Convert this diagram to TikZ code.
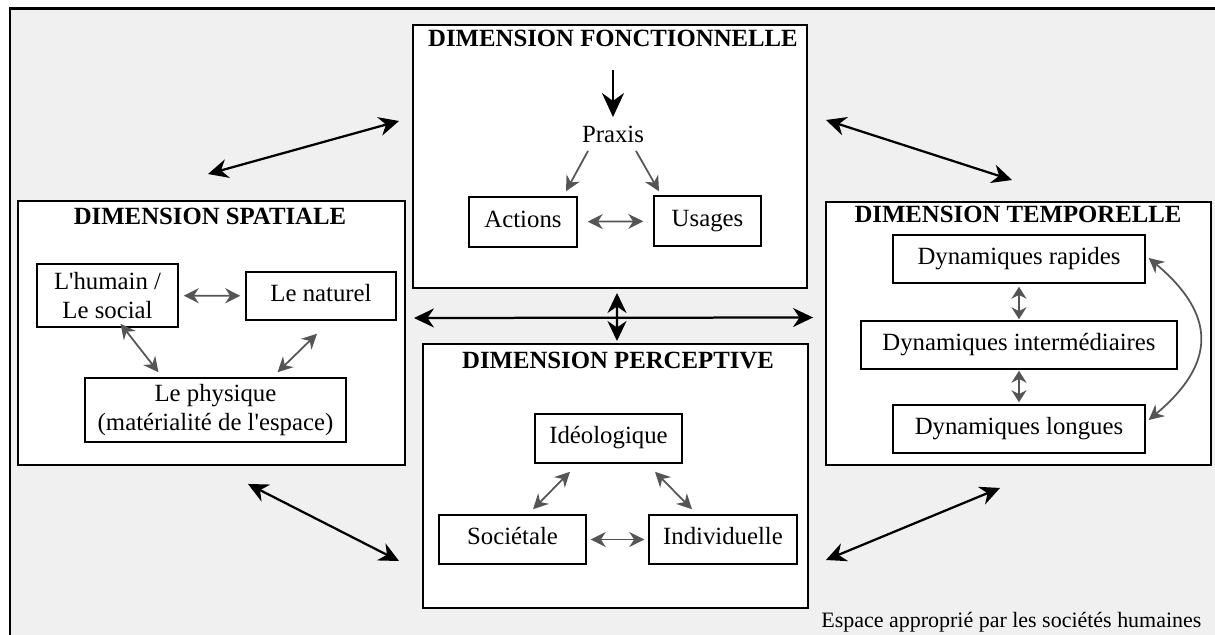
\documentclass[tikz,border=0pt]{standalone}
\usepackage{fontspec}
\setmainfont{Liberation Serif}
\usetikzlibrary{
    arrows.meta,
    calc,
    positioning
}
\definecolor{bggray}{HTML}{F0F0F0}
\definecolor{arrowgray}{HTML}{555555}

\begin{document}
\begin{tikzpicture}[x=0.02cm, y=-0.02cm,
    dimbox/.style={draw, line width=0.04cm, fill=white, inner sep=0pt},
    dimtitle/.style={font=\bfseries, anchor=base},
    subbox/.style={draw, line width=0.03cm, fill=white, inner sep=0pt, align=center},
    onerow/.style={subbox, text height=0.69em, text depth=0.25em},
    bigarrow/.style={<->, >={Stealth[length=0.4cm, width=0.38cm]}, line width=0.045cm},
    smallarrow/.style={<->, >={Stealth[length=0.3cm, width=0.3cm]}, color=arrowgray, line width=0.035cm}
]
    \fontsize{14.1}{17}\selectfont
    \useasboundingbox (0,0) rectangle (1215,635);
    \fill[bggray] (10,9) rectangle (1215,635);
    \draw[line width=0.06cm] (10,635) -- (10,9) -- (1215,9);

    % the four dimensions
    \node[dimbox, minimum width=7.88cm, minimum height=5.26cm] (fonc) at (610,156.5) {};
    \node[dimbox, minimum width=7.74cm, minimum height=5.28cm] (spat) at (211.5,333) {};
    \node[dimbox, minimum width=7.70cm, minimum height=5.26cm] (temp) at (1018.5,333.5) {};
    \node[dimbox, minimum width=7.70cm, minimum height=5.28cm] (perc) at (615.5,476) {};
    \node[dimtitle] (foncT) at (613,47) {DIMENSION FONCTIONNELLE};
    \node[dimtitle] (spatT) at (210,225) {DIMENSION SPATIALE};
    \node[dimtitle] (tempT) at (1018,223) {DIMENSION TEMPORELLE};
    \node[dimtitle] (percT) at (618,368) {DIMENSION PERCEPTIVE};

    % fonctionnelle
    \coordinate (praxisIn) at (613,70);
    \node (praxis) at (613,134) {Praxis};
    \node[onerow, minimum width=2.16cm, minimum height=1cm] (actions) at (523,222) {Actions};
    \node[onerow, minimum width=2.14cm, minimum height=1cm] (usages) at (707.5,221) {Usages};
    \draw[-{Stealth[length=0.48cm, width=0.44cm]}, line width=0.05cm] (praxisIn) -- (praxis);
    \draw[smallarrow, ->] ($(praxis.south)+(-25,0)$) -- ($(actions.north)+(43,-5)$);
    \draw[smallarrow, ->] ($(praxis.south)+(23,0)$) -- ($(usages.north)+(-48.5,-4)$);
    \draw[smallarrow, shorten <=0.2cm, shorten >=0.2cm] (actions) -- (usages);

    % spatiale
    \node[subbox, minimum width=2.82cm, minimum height=1.26cm] (humain) at (107.5,295.5) {L\textquotesingle humain /\\Le social};
    \node[onerow, minimum width=3cm, minimum height=0.96cm] (naturel) at (321,296) {Le naturel};
    \node[subbox, minimum width=5.22cm, minimum height=1.28cm] (physique) at (215.5,410) {Le physique\\(matérialité de l\textquotesingle espace)};
    \draw[smallarrow, shorten <=0.1cm, shorten >=0.1cm] (humain) -- (naturel);
    \draw[smallarrow] ($(humain.south)+(13,-4)$) -- ($(physique.north)+(-57,-5)$);
    \draw[smallarrow] ($(naturel.south)+(-4,13)$) -- ($(physique.north)+(62,-5)$);

    % temporelle
    \node[onerow, minimum width=5.04cm, minimum height=0.96cm] (rapides) at (1019,259) {Dynamiques rapides};
    \node[onerow, minimum width=6.32cm, minimum height=0.96cm] (inter) at (1019,345) {Dynamiques intermédiaires};
    \node[onerow, minimum width=5.04cm, minimum height=0.96cm] (longues) at (1019,429) {Dynamiques longues};
    \draw[smallarrow, >={Stealth[length=0.24cm, width=0.3cm]}, shorten <=0.06cm, shorten >=0.02cm] (rapides) -- (inter);
    \draw[smallarrow, >={Stealth[length=0.24cm, width=0.3cm]}, shorten <=0.02cm, shorten >=0.04cm] (inter) -- (longues);
    \draw[smallarrow] ($(rapides.east)+(3,-1)$) to[bend left=50, looseness=1.4] ($(longues.east)+(3,-9)$);

    % perceptive
    \node[onerow, minimum width=2.94cm, minimum height=0.98cm] (ideo) at (608.5,438.5) {Idéologique};
    \node[onerow, minimum width=2.94cm, minimum height=0.98cm] (soc) at (512.5,539.5) {Sociétale};
    \node[onerow, minimum width=2.96cm, minimum height=0.98cm] (indiv) at (723,539.5) {Individuelle};
    \draw[smallarrow] ($(ideo.south)+(-38.5,8)$) -- ($(soc.north)+(20.5,-5)$);
    \draw[smallarrow] ($(ideo.south)+(46.5,8)$) -- ($(indiv.north)+(-31,-5)$);
    \draw[smallarrow, shorten <=0.08cm, shorten >=0.08cm] (soc) -- (indiv);

    % links between dimensions
    \draw[bigarrow] ($(spat.north)+(-3.5,-26)$) -- ($(fonc.west)+(-13,-35.5)$);
    \draw[bigarrow] ($(fonc.east)+(18,-36.5)$) -- ($(temp.north)+(-6.5,-21)$);
    \draw[bigarrow] ($(spat.south)+(36.5,18)$) -- ($(perc.west)+(-23,85)$);
    \draw[bigarrow] ($(perc.east)+(17,84)$) -- ($(temp.south)+(-18.5,22)$);
    \draw[bigarrow] ($(fonc.south)+(7,4)$) -- ($(perc.north)+(1.5,-2)$);
    \draw[bigarrow] ($(spat.east)+(8,-15)$) -- ($(temp.west)+(-12,-16)$);

    \node[anchor=base east, font=\fontsize{12.5}{15}\selectfont] (espace) at (1210,627) {Espace approprié par les sociétés humaines};
\end{tikzpicture}
\end{document}
